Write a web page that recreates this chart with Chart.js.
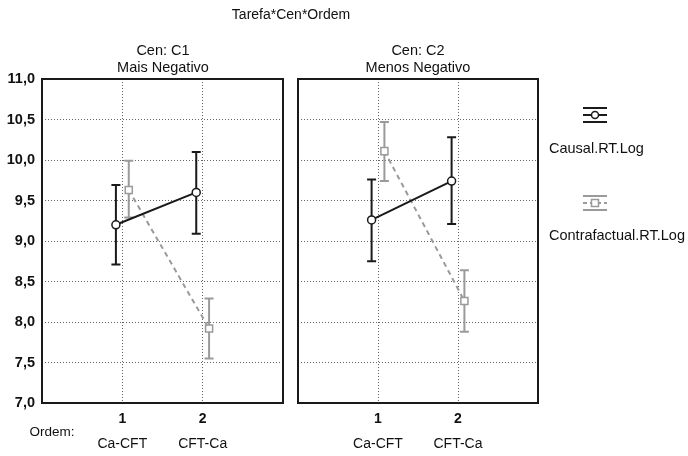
<!DOCTYPE html>
<html>
<head>
<meta charset="utf-8">
<script src="https://cdn.jsdelivr.net/npm/chart.js@4"></script>
<style>
  body { margin: 0; background: #fff; font-family: 'Liberation Sans', Arial, sans-serif; }
  #wrap { position: relative; width: 688px; height: 456px; }
  canvas { position: absolute; top: 0; }
  .txt { position: absolute; color: #111; font-size: 14.5px; white-space: nowrap; transform: translate(-50%, -50%); }
</style>
</head>
<body>
<div id="wrap">
  <canvas id="c1" width="290" height="456" style="left:0"></canvas>
  <canvas id="c2" width="398" height="456" style="left:290px"></canvas>
  <div class="txt" style="left:291px;top:14px;font-size:14px">Tarefa*Cen*Ordem</div>
  <div class="txt" style="left:163px;top:50px">Cen: C1</div>
  <div class="txt" style="left:163px;top:67px">Mais Negativo</div>
  <div class="txt" style="left:418px;top:50px">Cen: C2</div>
  <div class="txt" style="left:418px;top:67px">Menos Negativo</div>
  <div class="txt" style="left:52px;top:431px;font-size:13.5px">Ordem:</div>
</div>
<script>
const ordem = [1, 2];
const ordemLabels = ['Ca-CFT', 'CFT-Ca'];
const yTicks = [7.0, 7.5, 8.0, 8.5, 9.0, 9.5, 10.0, 10.5, 11.0];
const seriesNames = ['Causal.RT.Log', 'Contrafactual.RT.Log'];

// Cen: C1 (Mais Negativo)
const c1CausalMean = [9.20, 9.60];
const c1CausalLow = [8.71, 9.09];
const c1CausalHigh = [9.69, 10.10];
const c1ContraMean = [9.63, 7.92];
const c1ContraLow = [9.29, 7.55];
const c1ContraHigh = [9.99, 8.29];

// Cen: C2 (Menos Negativo)
const c2CausalMean = [9.26, 9.74];
const c2CausalLow = [8.75, 9.21];
const c2CausalHigh = [9.76, 10.28];
const c2ContraMean = [10.11, 8.26];
const c2ContraLow = [9.74, 7.88];
const c2ContraHigh = [10.47, 8.64];

const dark = '#1a1a1a';
const gray = '#9a9a9a';
const shift = 0.08;

const pts = (means, dx) => means.map((m, i) => ({ x: ordem[i] + dx, y: m }));

const errorBars = {
  id: 'errorBars',
  beforeDatasetsDraw(chart) {
    const { ctx, scales: { x, y } } = chart;
    chart.data.datasets.forEach((ds) => {
      ds.data.forEach((p, i) => {
        const px = x.getPixelForValue(p.x);
        const top = y.getPixelForValue(ds.high[i]);
        const bot = y.getPixelForValue(ds.low[i]);
        ctx.save();
        ctx.strokeStyle = ds.borderColor;
        ctx.lineWidth = 2;
        ctx.beginPath();
        ctx.moveTo(px, top); ctx.lineTo(px, bot);
        ctx.moveTo(px - 4.5, top); ctx.lineTo(px + 4.5, top);
        ctx.moveTo(px - 4.5, bot); ctx.lineTo(px + 4.5, bot);
        ctx.stroke();
        ctx.restore();
      });
    });
  },
};

const frame = {
  id: 'frame',
  afterDraw(chart) {
    const { ctx, chartArea: a } = chart;
    ctx.save();
    ctx.strokeStyle = dark;
    ctx.lineWidth = 2;
    ctx.strokeRect(a.left, a.top, a.right - a.left, a.bottom - a.top);
    ctx.restore();
  },
};

const legendBox = {
  id: 'legendBox',
  afterDraw(chart) {
    const { ctx } = chart;
    const items = [
      { color: dark, cy: 115, ty: 149, shape: 'circle', dash: [] },
      { color: gray, cy: 203, ty: 236, shape: 'rect', dash: [4, 3] },
    ];
    ctx.save();
    items.forEach((it, k) => {
      const cx = 305;
      ctx.strokeStyle = it.color;
      ctx.lineWidth = 2;
      ctx.beginPath();
      ctx.moveTo(cx - 12, it.cy - 7); ctx.lineTo(cx + 12, it.cy - 7);
      ctx.moveTo(cx - 12, it.cy + 7); ctx.lineTo(cx + 12, it.cy + 7);
      ctx.stroke();
      ctx.setLineDash(it.dash);
      ctx.beginPath();
      ctx.moveTo(cx - 12, it.cy); ctx.lineTo(cx + 12, it.cy);
      ctx.stroke();
      ctx.setLineDash([]);
      ctx.fillStyle = '#fff';
      ctx.lineWidth = 1.5;
      ctx.beginPath();
      if (it.shape === 'circle') ctx.arc(cx, it.cy, 3.5, 0, Math.PI * 2);
      else ctx.rect(cx - 3.5, it.cy - 3.5, 7, 7);
      ctx.fill(); ctx.stroke();
      ctx.fillStyle = '#111';
      ctx.font = '14.5px "Liberation Sans", Arial, sans-serif';
      ctx.textBaseline = 'middle';
      ctx.textAlign = 'left';
      ctx.fillText(seriesNames[k], 259, it.ty);
    });
    ctx.restore();
  },
};

const gridOpts = { color: '#666', lineWidth: 1, drawTicks: false };
const borderOpts = { display: false, dash: [1, 2] };

const makeConfig = (causalMean, causalLow, causalHigh, contraMean, contraLow, contraHigh, isFirst) => ({
  type: 'line',
  data: {
    datasets: [
      {
        label: seriesNames[0],
        data: pts(causalMean, -shift),
        low: causalLow,
        high: causalHigh,
        borderColor: dark,
        borderWidth: 2,
        pointStyle: 'circle',
        pointRadius: 4,
        pointBorderWidth: 1.5,
        pointBackgroundColor: '#fff',
        pointBorderColor: dark,
      },
      {
        label: seriesNames[1],
        data: pts(contraMean, shift),
        low: contraLow,
        high: contraHigh,
        borderColor: gray,
        borderWidth: 2,
        borderDash: [5, 4],
        pointStyle: 'rect',
        pointRadius: 5,
        pointBorderWidth: 1.5,
        pointBackgroundColor: '#fff',
        pointBorderColor: gray,
      },
    ],
  },
  options: {
    responsive: false,
    animation: false,
    layout: { padding: isFirst ? { top: 79, right: 7, left: 0, bottom: 0 } : { top: 79, right: 150, left: 8, bottom: 0 } },
    plugins: { legend: { display: false }, tooltip: { enabled: false } },
    scales: {
      x: {
        type: 'linear',
        min: 0,
        max: 3,
        weight: 0,
        afterBuildTicks: (s) => { s.ticks = ordem.map((v) => ({ value: v })); },
        afterFit: (s) => { s.height = 29; },
        grid: gridOpts,
        border: borderOpts,
        ticks: {
          padding: 8,
          color: '#111',
          font: { family: 'Liberation Sans', size: 14, weight: 'bold' },
          callback: (v) => String(v),
        },
      },
      x2: {
        type: 'linear',
        position: 'bottom',
        min: 0,
        max: 3,
        weight: 1,
        afterBuildTicks: (s) => { s.ticks = ordem.map((v) => ({ value: v })); },
        afterFit: (s) => { s.height = 24; },
        grid: { display: false, drawTicks: false },
        border: { display: false },
        ticks: {
          padding: 4,
          color: '#111',
          font: { family: 'Liberation Sans', size: 14 },
          callback: (v) => ordemLabels[ordem.indexOf(v)],
        },
      },
      y: {
        min: 7,
        max: 11,
        afterBuildTicks: (s) => { s.ticks = yTicks.map((v) => ({ value: v })); },
        afterFit: (s) => { s.width = isFirst ? 42 : 0; },
        grid: gridOpts,
        border: borderOpts,
        ticks: {
          display: isFirst,
          padding: 7,
          color: '#111',
          font: { family: 'Liberation Sans', size: 14.5, weight: 'bold' },
          callback: (v) => v.toFixed(1).replace('.', ','),
        },
      },
    },
  },
  plugins: isFirst ? [errorBars, frame] : [errorBars, frame, legendBox],
});

new Chart(document.querySelector('#c1'),
  makeConfig(c1CausalMean, c1CausalLow, c1CausalHigh, c1ContraMean, c1ContraLow, c1ContraHigh, true));
new Chart(document.querySelector('#c2'),
  makeConfig(c2CausalMean, c2CausalLow, c2CausalHigh, c2ContraMean, c2ContraLow, c2ContraHigh, false));
</script>
</body>
</html>
